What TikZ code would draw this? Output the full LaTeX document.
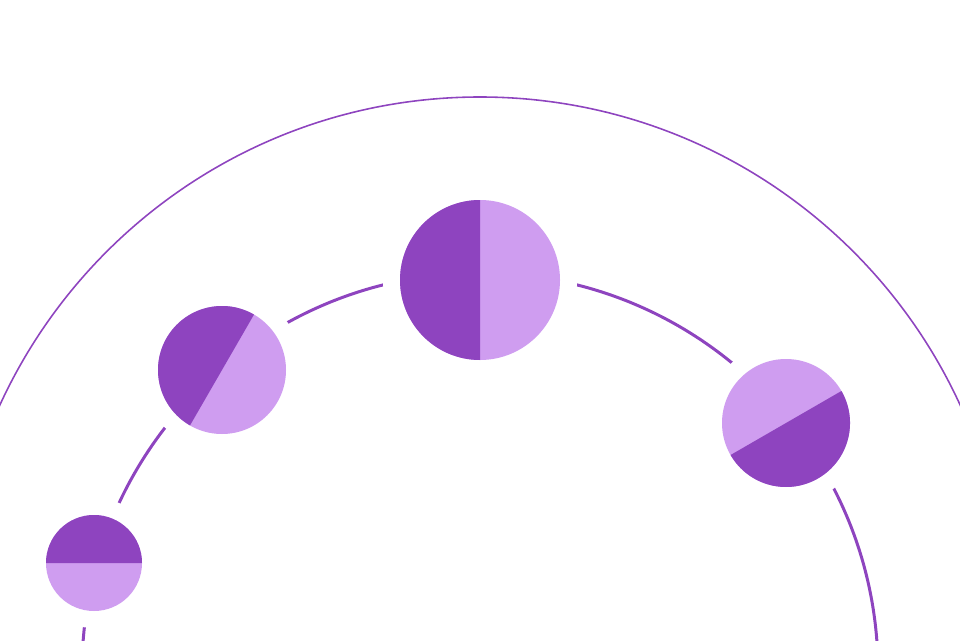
\documentclass[tikz,border=0pt]{standalone}
\definecolor{plumdark}{HTML}{8E44BF}
\definecolor{plumlight}{HTML}{CF9DF0}
\newcommand{\splitdisc}[4]{% center, radius, gap, start angle of dark half
  \fill[white] (#1) circle[radius=#2+#3];
  \fill[plumlight] (#1) circle[radius=#2];
  \fill[plumdark] (#1) ++(#4:#2) arc[start angle=#4,delta angle=180,radius=#2] -- cycle;
}
\begin{document}
\begin{tikzpicture}[x=0.02cm,y=0.02cm]
\useasboundingbox (0,0) rectangle (960,640);
\clip (0,0) rectangle (960,640);
% rings
\draw[plumdark,line width=0.9pt] (480,15) circle[radius=528];
\draw[plumdark,line width=1.7pt] (480,-31) circle[radius=398];
% discs
\coordinate (top) at (480,360);
\coordinate (left) at (222,270);
\coordinate (right) at (786,217);
\coordinate (small) at (94,77);
\splitdisc{top}{80}{17}{90}
\splitdisc{left}{64}{17}{60}
\splitdisc{right}{64}{17}{210}
\splitdisc{small}{48}{17}{0}
\end{tikzpicture}
\end{document}
